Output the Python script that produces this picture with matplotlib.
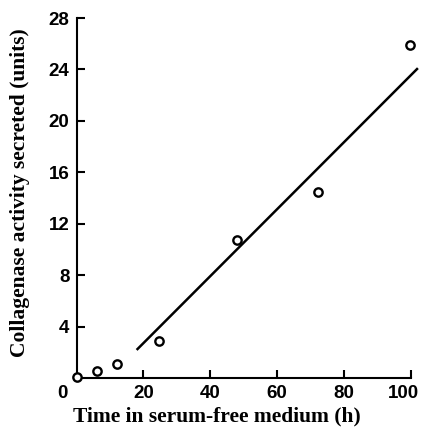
import matplotlib
matplotlib.use("Agg")
import matplotlib.pyplot as plt
from matplotlib.transforms import ScaledTranslation

# data
hours = [0, 6, 12, 24.6, 48, 72.2, 99.9]
activity = [0.1, 0.55, 1.05, 2.85, 10.75, 14.5, 25.9]

# fitted line end points
fit_x = [18.0, 102.2]
fit_y = [2.18, 24.1]

x_ticks = [20, 40, 60, 80, 100]
y_ticks = [4, 8, 12, 16, 20, 24, 28]

fig = plt.figure(figsize=(4.25, 4.29), dpi=100)
ax = fig.add_axes([0.180, 0.119, 0.786, 0.839])

ax.plot(fit_x, fit_y, color="black", lw=1.8, solid_capstyle="butt", clip_on=False)
ax.plot(hours, activity, "o", ms=6, mfc="white", mec="black", mew=1.7, clip_on=False, zorder=5)

ax.set_xlim(0, 100)
ax.set_ylim(0, 28)
ax.set_xticks(x_ticks)
ax.set_yticks(y_ticks)

for side in ["top", "right"]:
    ax.spines[side].set_visible(False)
for side in ["left", "bottom"]:
    ax.spines[side].set_linewidth(1.5)

tick_font = {"family": "Liberation Sans", "weight": "bold", "size": 13.5}
ax.tick_params(direction="in", length=6, width=1.5, pad=5)
ax.set_xticklabels([str(t) for t in x_ticks], fontdict=tick_font)
ax.set_yticklabels([str(t) for t in y_ticks], fontdict=tick_font)
# nudge the last x label left so it stays inside the figure
last = ax.get_xticklabels()[-1]
last.set_transform(last.get_transform() + ScaledTranslation(-5 / 72, 0, fig.dpi_scale_trans))

# shared zero at the corner
ax.annotate("0", xy=(0, 0), xytext=(-10, -5), textcoords="offset points",
            ha="center", va="top", **tick_font)

label_font = {"family": "Liberation Serif", "weight": "bold", "size": 15.5}
ax.set_xlabel("Time in serum-free medium (h)", fontdict=label_font)
ax.xaxis.set_label_coords(0.42, -0.078, transform=ax.transAxes)
ax.xaxis.label.set_verticalalignment("top")
ax.set_ylabel("Collagenase activity secreted (units)", fontdict=label_font)
ax.yaxis.set_label_coords(-0.17, 0.514)
ax.yaxis.label.set_verticalalignment("center")

fig.savefig("out.png", dpi=100)
